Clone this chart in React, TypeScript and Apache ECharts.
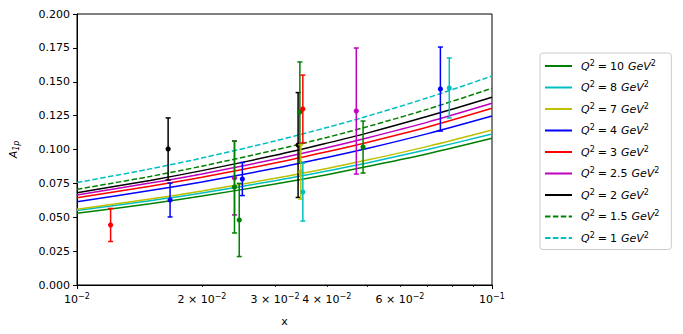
import React, { useEffect, useRef } from "react";
import * as echarts from "echarts";

// Curve sample positions (x) and read-off values for each Q^2 curve
const curveX = [0.01, 0.015, 0.02, 0.03, 0.04, 0.05, 0.07, 0.1];
const q10 = [0.0529, 0.0600, 0.0657, 0.0745, 0.0814, 0.0874, 0.0969, 0.1083];
const q8 = [0.0549, 0.0622, 0.0679, 0.0770, 0.0842, 0.0901, 0.1000, 0.1114];
const q7 = [0.0559, 0.0634, 0.0694, 0.0787, 0.0860, 0.0922, 0.1023, 0.1144];
const q4 = [0.0615, 0.0697, 0.0760, 0.0861, 0.0941, 0.1007, 0.1117, 0.1247];
const q3 = [0.0644, 0.0729, 0.0795, 0.0900, 0.0983, 0.1052, 0.1166, 0.1304];
const q25 = [0.0664, 0.0752, 0.0820, 0.0928, 0.1013, 0.1085, 0.1202, 0.1341];
const q2 = [0.0681, 0.0772, 0.0844, 0.0957, 0.1047, 0.1121, 0.1245, 0.1385];
const q15 = [0.0706, 0.0801, 0.0877, 0.0996, 0.1089, 0.1168, 0.1298, 0.1452];
const q1 = [0.0756, 0.0857, 0.0937, 0.1063, 0.1162, 0.1245, 0.1382, 0.1542];

const curveNames = ["10", "8", "7", "4", "3", "2.5", "2", "1.5", "1"];
const curveValues = [q10, q8, q7, q4, q3, q25, q2, q15, q1];
const curveColors = ["#008000", "#00bfbf", "#bfbf00", "#0000ff", "#ff0000", "#bf00bf", "#000000", "#008000", "#00bfbf"];
const curveDashed = [false, false, false, false, false, false, false, true, true];

// Measured data points with symmetric errors
const ptX = [0.01205, 0.01658, 0.01676, 0.02396, 0.02396, 0.0246, 0.02503, 0.0341, 0.03444, 0.03462, 0.03501, 0.03501, 0.0471, 0.0489, 0.0751, 0.0789];
const ptY = [0.0443, 0.1004, 0.0627, 0.0790, 0.0723, 0.0480, 0.0782, 0.1033, 0.1277, 0.0834, 0.1299, 0.0686, 0.1284, 0.1018, 0.1446, 0.1454];
const ptErr = [0.0122, 0.0229, 0.0125, 0.0273, 0.0339, 0.0270, 0.0122, 0.0387, 0.0369, 0.0200, 0.0250, 0.0214, 0.0465, 0.0192, 0.0310, 0.0221];
const ptColor = ["#ff0000", "#000000", "#0000ff", "#bf00bf", "#008000", "#008000", "#0000ff", "#000000", "#008000", "#bfbf00", "#ff0000", "#00bfbf", "#bf00bf", "#008000", "#0000ff", "#00bfbf"];

const yTicks = [0, 0.025, 0.05, 0.075, 0.1, 0.125, 0.15, 0.175, 0.2];
const xMajorTicks = [0.01, 0.1];
const xMinorTicks = [0.02, 0.03, 0.04, 0.05, 0.06, 0.07, 0.08, 0.09];
const xLabelTicks = [0.01, 0.02, 0.03, 0.04, 0.06, 0.1];

const FONT = "DejaVu Sans";

export default function App() {
  const ref = useRef<HTMLDivElement>(null);
  useEffect(() => {
    if (!ref.current) return;
    const chart = echarts.init(ref.current, null, { renderer: "svg" });
    const lg = (v: number) => Math.log10(v);

    const lineSeries = curveNames.map((name, i) => ({
      name,
      type: "line",
      xAxisIndex: 0,
      yAxisIndex: 0,
      data: curveX.map((x, j) => [x, curveValues[i][j]]),
      smooth: 0.3,
      symbol: "none",
      lineStyle: {
        color: curveColors[i],
        width: 1.5,
        type: curveDashed[i] ? [5.5, 2.4] : "solid",
      },
      itemStyle: { color: curveColors[i] },
      z: 2,
    }));

    const errSeries = {
      type: "custom",
      xAxisIndex: 0,
      yAxisIndex: 0,
      z: 5,
      data: ptX.map((x, i) => [x, ptY[i], ptErr[i]]),
      renderItem: (params: any, api: any) => {
        const x = api.value(0);
        const y = api.value(1);
        const e = api.value(2);
        const p = api.coord([x, y]);
        const t = api.coord([x, y + e]);
        const b = api.coord([x, y - e]);
        const c = ptColor[params.dataIndex];
        const st = { stroke: c, lineWidth: 1.5 };
        return {
          type: "group",
          children: [
            { type: "line", shape: { x1: p[0], y1: t[1], x2: p[0], y2: b[1] }, style: st },
            { type: "line", shape: { x1: p[0] - 2.5, y1: t[1], x2: p[0] + 2.5, y2: t[1] }, style: st },
            { type: "line", shape: { x1: p[0] - 2.5, y1: b[1], x2: p[0] + 2.5, y2: b[1] }, style: st },
            { type: "circle", shape: { cx: p[0], cy: p[1], r: 2.6 }, style: { fill: c } },
          ],
        };
      },
    };

    const xLabelFmt = (v: number) => {
      const m = Math.round(Math.pow(10, v + 2));
      if (Math.abs(v + 2) < 1e-6) return "{b|10}{sup|−2}";
      if (Math.abs(v + 1) < 1e-6) return "{b|10}{sup|−1}";
      return `{b|${m} × 10}{sup|−2}`;
    };

    const option: any = {
      animation: false,
      backgroundColor: "#ffffff",
      textStyle: { fontFamily: FONT },
      grid: {
        left: 73,
        top: 14,
        width: 419,
        height: 271,
        show: true,
        borderColor: "#000",
        borderWidth: 1,
        backgroundColor: "transparent",
      },
      xAxis: [
        {
          type: "log",
          logBase: 10,
          min: 0.01,
          max: 0.1,
          gridIndex: 0,
          position: "bottom",
          axisLine: { show: false },
          axisTick: { show: false },
          axisLabel: { show: false },
          splitLine: { show: false },
        },
        {
          type: "value",
          min: -2,
          max: -1,
          gridIndex: 0,
          position: "bottom",
          name: "x",
          nameLocation: "middle",
          nameGap: 31,
          nameTextStyle: { fontSize: 11, color: "#000", fontFamily: FONT },
          axisLine: { show: true, lineStyle: { color: "#000", width: 1 } },
          axisTick: {
            show: true,
            length: 4,
            lineStyle: { color: "#000", width: 1 },
            customValues: xMajorTicks.map(lg),
          },
          axisLabel: {
            show: true,
            margin: 7,
            color: "#000",
            customValues: xLabelTicks.map(lg),
            formatter: xLabelFmt,
            rich: {
              b: { fontSize: 11, fontFamily: FONT, color: "#000" },
              sup: { fontSize: 8, fontFamily: FONT, color: "#000", verticalAlign: "top", padding: [0, 0, 6, 0] },
            },
          },
          splitLine: { show: false },
        },
        {
          type: "value",
          min: -2,
          max: -1,
          gridIndex: 0,
          position: "bottom",
          axisLine: { show: false },
          axisTick: {
            show: true,
            length: 2,
            lineStyle: { color: "#000", width: 0.8 },
            customValues: xMinorTicks.map(lg),
          },
          axisLabel: { show: false },
          splitLine: { show: false },
        },
      ],
      yAxis: {
        type: "value",
        min: 0,
        max: 0.2,
        interval: 0.025,
        name: "{i|A}{sub|1p}",
        nameLocation: "middle",
        nameGap: 57,
        nameRotate: 90,
        nameTextStyle: {
          rich: {
            i: { fontSize: 11, fontStyle: "italic", fontFamily: FONT, color: "#000" },
            sub: { fontSize: 8, fontStyle: "italic", fontFamily: FONT, color: "#000", padding: [5, 0, 0, 0] },
          },
        },
        axisLine: { show: true, lineStyle: { color: "#000", width: 1 } },
        axisTick: { show: true, length: 4, lineStyle: { color: "#000" }, customValues: yTicks },
        axisLabel: {
          color: "#000",
          fontSize: 11,
          fontFamily: FONT,
          margin: 7,
          formatter: (v: number) => v.toFixed(3),
        },
        splitLine: { show: false },
      },
      legend: {
        data: curveNames,
        orient: "vertical",
        left: 540,
        top: 53,
        padding: [6, 12, 6, 4],
        itemWidth: 27,
        itemHeight: 12,
        itemGap: 9,
        backgroundColor: "#fff",
        borderColor: "#cccccc",
        borderWidth: 1,
        borderRadius: 3,
        itemStyle: { opacity: 0 },
        formatter: (name: string) => `{i|Q}{sup|2}{e|=}{n|${name}}{g|GeV}{sup|2}`,
        textStyle: {
          color: "#000",
          fontFamily: FONT,
          fontSize: 11,
          padding: [0, 0, 0, 4],
          rich: {
            i: { fontSize: 11, fontStyle: "italic", fontFamily: FONT, color: "#000" },
            g: { fontSize: 11, fontStyle: "italic", fontFamily: FONT, color: "#000", padding: [0, 0, 0, 4] },
            e: { fontSize: 11, fontFamily: FONT, color: "#000", padding: [0, 3, 0, 3] },
            n: { fontSize: 11, fontFamily: FONT, color: "#000" },
            sup: { fontSize: 8, fontFamily: FONT, color: "#000", verticalAlign: "top", padding: [0, 0, 6, 0] },
          },
        },
      },
      series: [...lineSeries, errSeries],
    };
    chart.setOption(option);
    return () => chart.dispose();
  }, []);
  return (
    <div
      ref={ref}
      style={{ position: "absolute", left: 0, top: 0, width: 683, height: 334 }}
    />
  );
}
